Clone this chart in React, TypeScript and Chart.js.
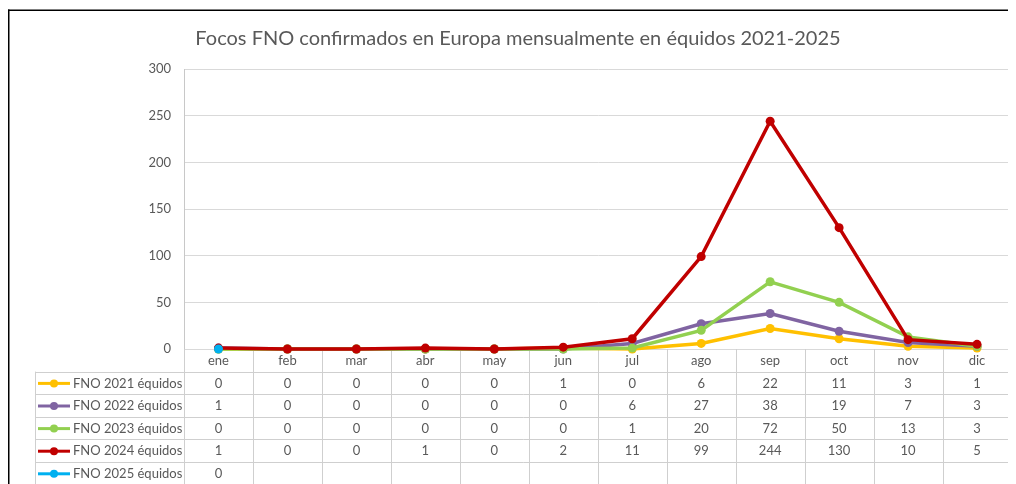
import React, { useEffect, useRef } from "react";
import { Chart, registerables } from "chart.js";

Chart.register(...registerables);

const TITLE = "Focos FNO confirmados en Europa mensualmente en équidos 2021-2025";
const MONTHS = ["ene", "feb", "mar", "abr", "may", "jun", "jul", "ago", "sep", "oct", "nov", "dic"];
const SERIES_NAMES = ["FNO 2021 équidos", "FNO 2022 équidos", "FNO 2023 équidos", "FNO 2024 équidos", "FNO 2025 équidos"];
const FNO_2021 = [0, 0, 0, 0, 0, 1, 0, 6, 22, 11, 3, 1];
const FNO_2022 = [1, 0, 0, 0, 0, 0, 6, 27, 38, 19, 7, 3];
const FNO_2023 = [0, 0, 0, 0, 0, 0, 1, 20, 72, 50, 13, 3];
const FNO_2024 = [1, 0, 0, 1, 0, 2, 11, 99, 244, 130, 10, 5];
const FNO_2025 = [0, null, null, null, null, null, null, null, null, null, null, null];
const COLORS = ["#FFC000", "#8064A2", "#92D050", "#C00000", "#00B0F0"];
const Y_TICKS = [0, 50, 100, 150, 200, 250, 300];

const FONT = "Lato, 'Open Sans', sans-serif";
const TEXT = "#595959";
const LINE = "#cfcfcf";

const W = 1008;
const H = 476;

export default function App() {
  const ref = useRef<HTMLCanvasElement | null>(null);

  useEffect(() => {
    const canvas = ref.current;
    if (!canvas) return;
    const allSeries = [FNO_2021, FNO_2022, FNO_2023, FNO_2024, FNO_2025];

    const tablePlugin = {
      id: "tablePlugin",
      beforeDatasetsDraw(chart: any) {
        const ctx = chart.ctx;
        const xs = chart.scales.x;
        const area = chart.chartArea;
        const left = area.left;
        const right = area.right;
        const colW = (right - left) / MONTHS.length;
        const top = area.bottom;
        const rowH = 22.6;
        const legendLeft = 27;
        ctx.save();
        // frame
        ctx.fillStyle = "#000";
        ctx.fillRect(0, 1.5, W, 1.5);
        ctx.fillRect(0, 1.5, 1.5, H);
        // title
        ctx.fillStyle = TEXT;
        ctx.font = `20px ${FONT}`;
        ctx.textAlign = "center";
        ctx.textBaseline = "middle";
        ctx.fillText(TITLE, 510, 31);
        // grid lines of table
        ctx.strokeStyle = LINE;
        ctx.lineWidth = 1;
        for (let k = 0; k <= MONTHS.length; k++) {
          const x = Math.round(left + k * colW) + 0.5;
          ctx.beginPath();
          ctx.moveTo(x, top);
          ctx.lineTo(x, H);
          ctx.stroke();
        }
        for (let r = 1; r <= 6; r++) {
          const y = Math.round(top + r * rowH) + 0.5;
          ctx.beginPath();
          ctx.moveTo(legendLeft, y);
          ctx.lineTo(right, y);
          ctx.stroke();
        }
        ctx.beginPath();
        ctx.moveTo(legendLeft + 0.5, top + rowH);
        ctx.lineTo(legendLeft + 0.5, H);
        ctx.stroke();
        // header labels
        ctx.fillStyle = TEXT;
        ctx.font = `13px ${FONT}`;
        ctx.textAlign = "center";
        ctx.textBaseline = "middle";
        MONTHS.forEach((m, i) => {
          ctx.fillText(m, xs.getPixelForValue(i), top + rowH / 2 + 0.5);
        });
        // rows
        allSeries.forEach((vals, r) => {
          const cy = top + (r + 1) * rowH + rowH / 2 + 0.5;
          ctx.fillStyle = TEXT;
          ctx.textAlign = "center";
          vals.forEach((v, i) => {
            if (v === null || v === undefined) return;
            ctx.fillText(String(v), xs.getPixelForValue(i), cy);
          });
          // legend key
          ctx.strokeStyle = COLORS[r];
          ctx.lineWidth = 3;
          ctx.beginPath();
          ctx.moveTo(30, cy);
          ctx.lineTo(62, cy);
          ctx.stroke();
          ctx.fillStyle = COLORS[r];
          ctx.beginPath();
          ctx.arc(46, cy, 4, 0, Math.PI * 2);
          ctx.fill();
          ctx.fillStyle = TEXT;
          ctx.textAlign = "left";
          ctx.fillText(SERIES_NAMES[r], 65, cy);
          ctx.strokeStyle = LINE;
          ctx.lineWidth = 1;
        });
        ctx.restore();
      },
    };

    const chart = new Chart(canvas, {
      type: "line",
      data: {
        labels: MONTHS,
        datasets: allSeries.map((vals, i) => ({
          label: SERIES_NAMES[i],
          data: vals,
          borderColor: COLORS[i],
          backgroundColor: COLORS[i],
          pointBackgroundColor: COLORS[i],
          pointBorderColor: COLORS[i],
          borderWidth: 3.5,
          pointRadius: 4.5,
          pointBorderWidth: 0,
          tension: 0,
          spanGaps: false,
          clip: false,
          order: allSeries.length - i,
        })),
      },
      options: {
        responsive: false,
        animation: false,
        events: [],
        layout: { padding: { left: 0, top: 61, right: 4, bottom: 135 } },
        plugins: {
          legend: { display: false },
          title: { display: false },
          tooltip: { enabled: false },
        },
        scales: {
          x: {
            type: "category",
            offset: true,
            ticks: { display: false },
            grid: { display: false, drawTicks: false },
            border: { display: false },
            afterFit: (s: any) => {
              s.height = 0;
            },
          },
          y: {
            min: 0,
            max: 300,
            afterBuildTicks: (s: any) => {
              s.ticks = Y_TICKS.map((v) => ({ value: v }));
            },
            ticks: {
              color: TEXT,
              font: { family: FONT, size: 13 },
              padding: 13,
            },
            grid: { color: "#d9d9d9", drawTicks: false, lineWidth: 1 },
            border: { display: true, color: "#c8c8c8", width: 1 },
            afterFit: (s: any) => {
              s.width = 176;
            },
          },
        },
      },
      plugins: [tablePlugin],
    });
    return () => chart.destroy();
  }, []);

  return (
    <div style={{ width: W, height: H }}>
      <canvas ref={ref} width={W} height={H} style={{ display: "block", width: W, height: H }} />
    </div>
  );
}
